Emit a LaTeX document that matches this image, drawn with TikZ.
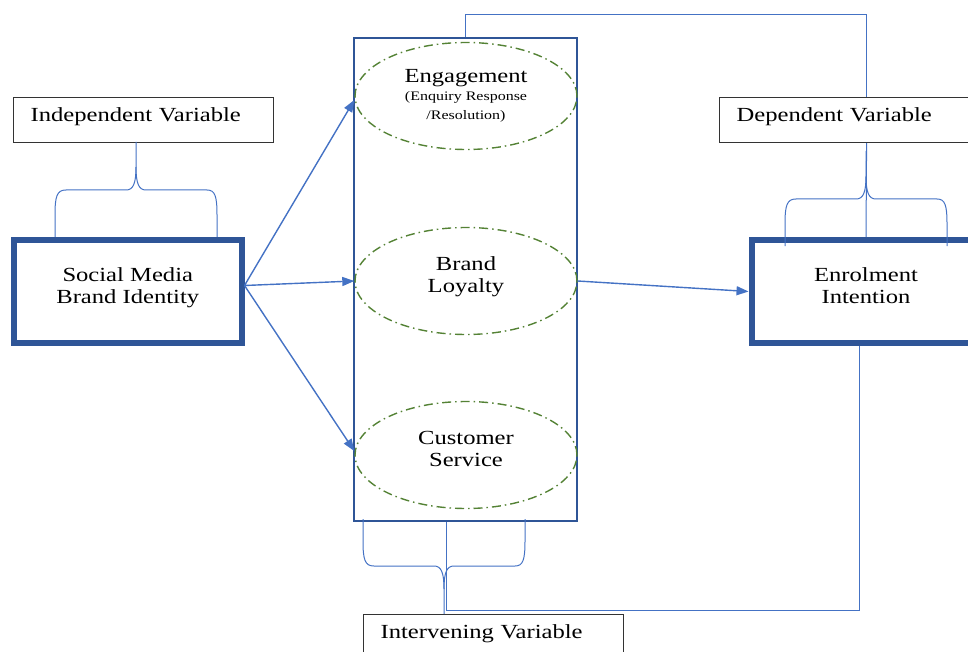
\documentclass[tikz,border=0pt]{standalone}
\usepackage{fontspec}
\setmainfont{Liberation Serif}[FakeStretch=1.23]
\usetikzlibrary{shapes.geometric,arrows.meta}
\definecolor{boxblue}{HTML}{2F5597}
\definecolor{linkblue}{HTML}{4472C4}
\definecolor{leafgreen}{HTML}{548235}
\newcommand{\bigtxt}{\fontsize{20}{22}\selectfont}
\newcommand{\smalltxt}{\fontsize{13}{15}\selectfont}
\begin{document}
\begin{tikzpicture}[x=1pt,y=-1pt,
  thickbox/.style={draw=boxblue,line width=6pt,minimum width=227.5pt,
    minimum height=103pt,align=center,font=\bigtxt,text depth=12pt},
  labelbox/.style={draw=black!80,line width=1.2pt,anchor=north west,
    inner xsep=17pt,inner ysep=0pt,text width=226pt,align=left,
    text height=24pt,text depth=21pt,font=\bigtxt},
  oval/.style={ellipse,draw=leafgreen,line width=1.4pt,
    dash pattern=on 9pt off 4pt on 1.5pt off 4pt,
    minimum width=222pt,minimum height=107pt,inner sep=0pt,
    align=center,font=\bigtxt},
  raised/.style={text depth=12pt},
  link/.style={draw=linkblue,line width=1pt},
  arrowlink/.style={draw=linkblue,line width=1.4pt,
    -{Triangle[length=12pt,width=9pt]}},
  bracepic/.pic={
    \draw[link] (-81,95) -- (-81,73) .. controls (-81,54) and (-79,48) .. (-70,48)
      -- (-10,48) .. controls (-3,48) and (0,42) .. (0,25) -- (0,0);
    \draw[link] (0,25) .. controls (0,42) and (3,48) .. (10,48)
      -- (71,48) .. controls (79,48) and (81,54) .. (81,73) -- (81,95);
  }
]
\clip (0,0) rectangle (968,652);

% variable labels
\node[labelbox] (ind) at (13,97) {Independent Variable};
\node[labelbox] (dep) at (719,97) {Dependent Variable};
\node[labelbox] (int) at (363,614) {Intervening Variable};

% main boxes
\node[thickbox] (soc) at (127.75,291.5) {Social Media\\Brand Identity};
\node[thickbox,minimum width=229pt] (enr) at (866,291.5) {Enrolment\\Intention};

% intervening frame with its three constructs
\node[draw=boxblue,line width=1.6pt,minimum width=223pt,minimum height=483pt]
  (cr) at (465.5,279.5) {};
\node[oval] (eng) at (466,96)
  {Engagement\\[-4pt]\smalltxt(Enquiry Response\\[-3pt]\smalltxt/Resolution)};
\node[oval,raised] (bl) at (466,281) {Brand\\Loyalty};
\node[oval,raised] (cs) at (466,455) {Customer\\Service};

% braces tying labels to their boxes
\pic at (136,142) {bracepic};
\pic at (866,151) {bracepic};
\pic[yscale=-1] at (444,614) {bracepic};

% causal arrows
\draw[arrowlink] ([yshift=6pt]soc.east) -- ([yshift=-4pt]eng.west);
\draw[arrowlink] ([yshift=6pt]soc.east) -- (bl.west);
\draw[arrowlink] ([yshift=6pt]soc.east) -- ([yshift=4pt]cs.west);
\draw[arrowlink] (bl.east) -- (enr.west);

% feedback connectors
\draw[link] (cr.north) -- ++(0,-23) -| ([xshift=17pt]dep.north);
\draw[link] ([xshift=17pt]dep.south) -- (enr.north);
\coordinate (j) at (446,610);
\draw[link] ([xshift=-7pt]enr.south) |- (j) -- (j |- cr.south);
\end{tikzpicture}
\end{document}
